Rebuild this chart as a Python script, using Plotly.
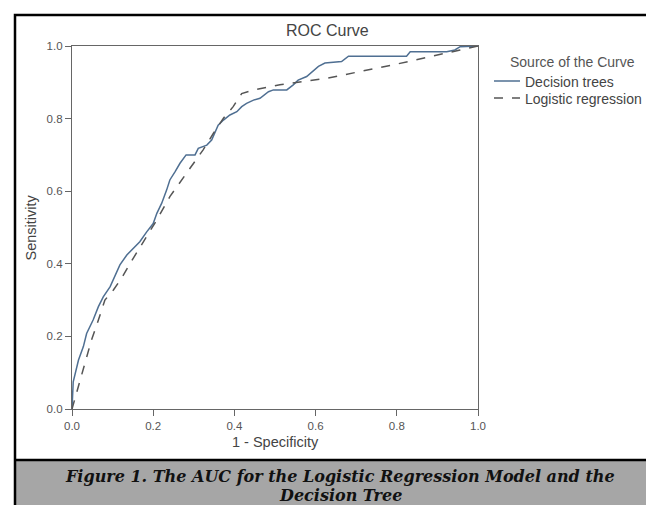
import plotly.graph_objects as go

# ---- data ----
dt_x = [0, 0.003, 0.016, 0.028, 0.036, 0.052, 0.065, 0.077, 0.094, 0.106, 0.118, 0.135,
        0.147, 0.167, 0.184, 0.200, 0.209, 0.221, 0.233, 0.241, 0.254, 0.266, 0.281, 0.303,
        0.311, 0.332, 0.344, 0.352, 0.360, 0.373, 0.389, 0.406, 0.418, 0.430, 0.447, 0.463,
        0.484, 0.496, 0.529, 0.545, 0.557, 0.578, 0.594, 0.607, 0.623, 0.664, 0.681, 0.824,
        0.833, 0.923, 0.943, 0.956, 1.0]
dt_y = [0, 0.075, 0.135, 0.172, 0.208, 0.245, 0.282, 0.309, 0.337, 0.369, 0.397, 0.424,
        0.438, 0.461, 0.488, 0.511, 0.539, 0.567, 0.603, 0.631, 0.654, 0.677, 0.700, 0.700,
        0.718, 0.727, 0.741, 0.764, 0.782, 0.796, 0.810, 0.819, 0.833, 0.842, 0.851, 0.856,
        0.874, 0.879, 0.879, 0.893, 0.906, 0.916, 0.930, 0.944, 0.953, 0.957, 0.972, 0.972,
        0.984, 0.984, 0.989, 0.998, 1.0]

lr_x = [0, 0.016, 0.032, 0.048, 0.065, 0.081, 0.102, 0.122, 0.143, 0.163, 0.184, 0.209,
        0.241, 0.270, 0.299, 0.323, 0.348, 0.373, 0.397, 0.418, 0.447, 0.512, 0.627, 0.791,
        0.956, 1.0]
lr_y = [0, 0.061, 0.126, 0.190, 0.245, 0.300, 0.328, 0.360, 0.401, 0.438, 0.475, 0.521,
        0.585, 0.631, 0.677, 0.714, 0.759, 0.801, 0.833, 0.869, 0.879, 0.893, 0.911, 0.948,
        0.989, 1.0]

tick_vals = [0.0, 0.2, 0.4, 0.6, 0.8, 1.0]
series_names = ["Decision trees", "Logistic regression"]
series_colors = ["#4f6f92", "#555555"]
series_dash = ["solid", "dash"]
chart_title = "ROC Curve"
legend_title = "Source of the Curve"
x_title = "1 - Specificity"
y_title = "Sensitivity"
caption_lines = ["Figure 1. The AUC for the Logistic Regression Model and the", "Decision Tree"]

# ---- layout geometry (page pixels) ----
PAGE_W, PAGE_H = 654, 505
OFF = 8  # default body margin of the html page
PL, PR, PT, PB = 72, 478, 46, 409  # plot area edges in page pixels
W, H = PAGE_W - OFF, PAGE_H - OFF


def px_x(px):
    return (px - PL) / (PR - PL)


def px_y(py):
    return (PB - py) / (PB - PT)


FONT = "Liberation Sans, Arial, sans-serif"
GRAY = "#555555"

fig = go.Figure()
fig.add_trace(go.Scatter(x=dt_x, y=dt_y, mode="lines", name=series_names[0],
                         line=dict(color=series_colors[0], width=1.5, dash=series_dash[0])))
fig.add_trace(go.Scatter(x=lr_x, y=lr_y, mode="lines", name=series_names[1],
                         line=dict(color=series_colors[1], width=1.5, dash=series_dash[1])))

axis_common = dict(range=[0, 1], tickvals=tick_vals, tickformat=".1f", showgrid=False,
                   zeroline=False, showline=True, linecolor="#666666", linewidth=1.2,
                   mirror=True, ticks="outside", ticklen=6, tickcolor="#666666",
                   tickfont=dict(family=FONT, size=11.5, color=GRAY))

fig.update_layout(
    width=W, height=H,
    margin=dict(l=PL - OFF, r=PAGE_W - PR, t=PT - OFF, b=PAGE_H - PB, pad=0, autoexpand=False),
    paper_bgcolor="white", plot_bgcolor="white",
    xaxis=axis_common, yaxis=axis_common,
    showlegend=False,
)

# legend (drawn to match the compact spacing of the original)
fig.add_annotation(text=legend_title, xref="paper", yref="paper", x=px_x(572), y=px_y(62),
                   showarrow=False, xanchor="center", yanchor="middle",
                   font=dict(family=FONT, size=14, color=GRAY))
for i, name in enumerate(series_names):
    yy = 81 + 17 * i
    fig.add_shape(type="line", xref="paper", yref="paper",
                  x0=px_x(494), x1=px_x(520), y0=px_y(yy), y1=px_y(yy),
                  line=dict(color=series_colors[i], width=1.5, dash=series_dash[i]))
    fig.add_annotation(text=name, xref="paper", yref="paper", x=px_x(523), y=px_y(yy + 1),
                       showarrow=False, xanchor="left", yanchor="middle",
                       font=dict(family=FONT, size=14, color="#444444"))

# outer frame and caption band
fig.add_shape(type="rect", xref="paper", yref="paper",
              x0=px_x(15), x1=px_x(649), y0=px_y(460), y1=px_y(520),
              fillcolor="#a6a6a6", line=dict(width=0), layer="below")
fig.add_shape(type="rect", xref="paper", yref="paper",
              x0=px_x(15), x1=px_x(649), y0=px_y(15), y1=px_y(520),
              fillcolor="rgba(0,0,0,0)", line=dict(color="black", width=2.5))
fig.add_shape(type="line", xref="paper", yref="paper",
              x0=px_x(15), x1=px_x(649), y0=px_y(460), y1=px_y(460),
              line=dict(color="black", width=2.5))

# titles
fig.add_annotation(text=chart_title, xref="paper", yref="paper", x=px_x(327), y=px_y(31),
                   showarrow=False, xanchor="center", yanchor="middle",
                   font=dict(family=FONT, size=16, color="#444444"))
fig.add_annotation(text=x_title, xref="paper", yref="paper", x=0.5, y=px_y(442),
                   showarrow=False, xanchor="center", yanchor="middle",
                   font=dict(family=FONT, size=14.5, color="#444444"))
fig.add_annotation(text=y_title, xref="paper", yref="paper", x=px_x(30), y=0.5,
                   showarrow=False, xanchor="center", yanchor="middle", textangle=-90,
                   font=dict(family=FONT, size=14.5, color="#444444"))

# caption
cap_font = dict(family="DejaVu Serif, serif", size=16, color="#111111")
fig.add_annotation(text="<b><i>" + caption_lines[0] + "</i></b>", xref="paper", yref="paper",
                   x=px_x(340), y=px_y(476), showarrow=False, xanchor="center",
                   yanchor="middle", font=cap_font)
fig.add_annotation(text="<b><i>" + caption_lines[1] + "</i></b>", xref="paper", yref="paper",
                   x=px_x(340), y=px_y(495), showarrow=False, xanchor="center",
                   yanchor="middle", font=cap_font)

fig.write_html("out.html")
